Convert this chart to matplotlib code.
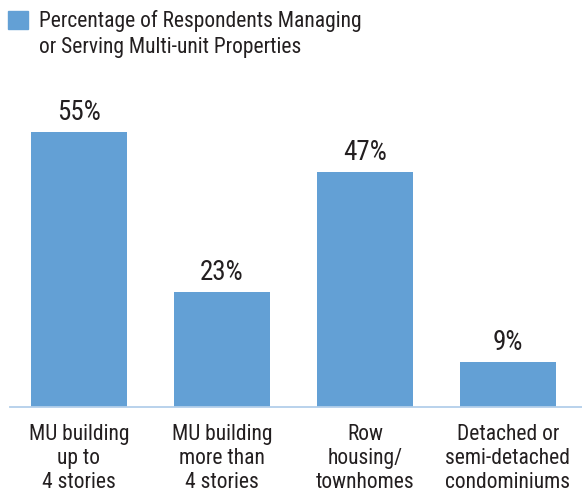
import matplotlib
matplotlib.use("Agg")
import matplotlib.pyplot as plt
from matplotlib.patches import Rectangle

# data
categories = ["MU building\nup to\n4 stories",
              "MU building\nmore than\n4 stories",
              "Row\nhousing/\ntownhomes",
              "Detached or\nsemi-detached\ncondominiums"]
values = [55, 23, 47, 9]
series_label = "Percentage of Respondents Managing\nor Serving Multi-unit Properties"

BAR_COLOR = "#63a0d5"
AXIS_COLOR = "#b3cfea"
TEXT_COLOR = "#231f20"

plt.rcParams["font.family"] = ["Roboto Condensed", "DejaVu Sans Condensed", "Lato"]

W, H = 582, 497
fig = plt.figure(figsize=(W / 100, H / 100), dpi=100)

# axes placed in pixel terms: baseline at y=407, spans x 10..582
left, right, bottom, top = 10, 582, 407, 100
ax = fig.add_axes([left / W, (H - bottom) / H, (right - left) / W, (bottom - top) / H])

x = range(len(values))
bars = ax.bar(x, values, width=0.671, color=BAR_COLOR, zorder=2)
ax.set_xlim(-0.4825, 3.5175)
ax.set_ylim(0, (bottom - top) / 5.0)

for rect, v in zip(bars, values):
    ax.annotate(f"{v}%", (rect.get_x() + rect.get_width() / 2, v),
                xytext=(0, 8.4), textcoords="offset points",
                ha="center", va="baseline", fontsize=19.5, color=TEXT_COLOR)

ax.set_xticks(list(x))
ax.set_xticklabels(categories, fontsize=15.5, color=TEXT_COLOR, linespacing=1.2)
ax.tick_params(axis="x", length=0, pad=12)
ax.set_yticks([])
for s in ("left", "right", "top"):
    ax.spines[s].set_visible(False)
ax.spines["bottom"].set_color(AXIS_COLOR)
ax.spines["bottom"].set_linewidth(1.3)

# legend: square + two-line label at top left
fig.patches.append(Rectangle((8 / W, 1 - 29 / H), 20 / W, 18 / H,
                             transform=fig.transFigure, color=BAR_COLOR))
fig.text(39 / W, 1 - 10 / H, series_label, ha="left", va="top",
         fontsize=15.5, color=TEXT_COLOR, linespacing=1.3)

fig.savefig("out.png", dpi=100)
